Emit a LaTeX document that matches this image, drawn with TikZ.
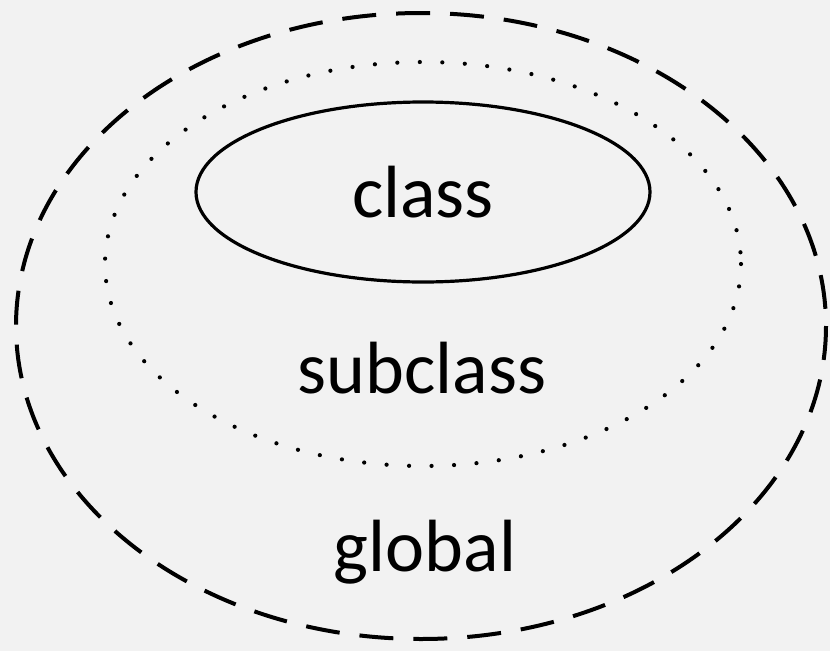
\documentclass[tikz,border=0pt]{standalone}
\usepackage{fontspec}
\setmainfont{Carlito}

\begin{document}
\begin{tikzpicture}[
  x=1pt, y=-1pt,
  scopeline/.style={line width=4pt, black},
  label/.style={font=\fontsize{74}{88}\selectfont, inner sep=0pt}
]
\fill[black!5] (0,0) rectangle (830,651);
\useasboundingbox (0,0) rectangle (830,651);

% scopes
\draw[scopeline, dash pattern=on 34pt off 20pt] (421,326) ellipse [x radius=405, y radius=313];
\draw[line width=4.2pt, line cap=round, dash pattern=on 0pt off 22.5pt] (423,264) ellipse [x radius=318, y radius=202];
\draw[scopeline, line width=3.2pt] (423,192) ellipse [x radius=227, y radius=90];

% labels
\node[label] (class) at (423,192) {class};
\node[label] (subclass) at (422,368) {subclass};
\node[label] (global) at (425,552) {global};
\end{tikzpicture}
\end{document}
